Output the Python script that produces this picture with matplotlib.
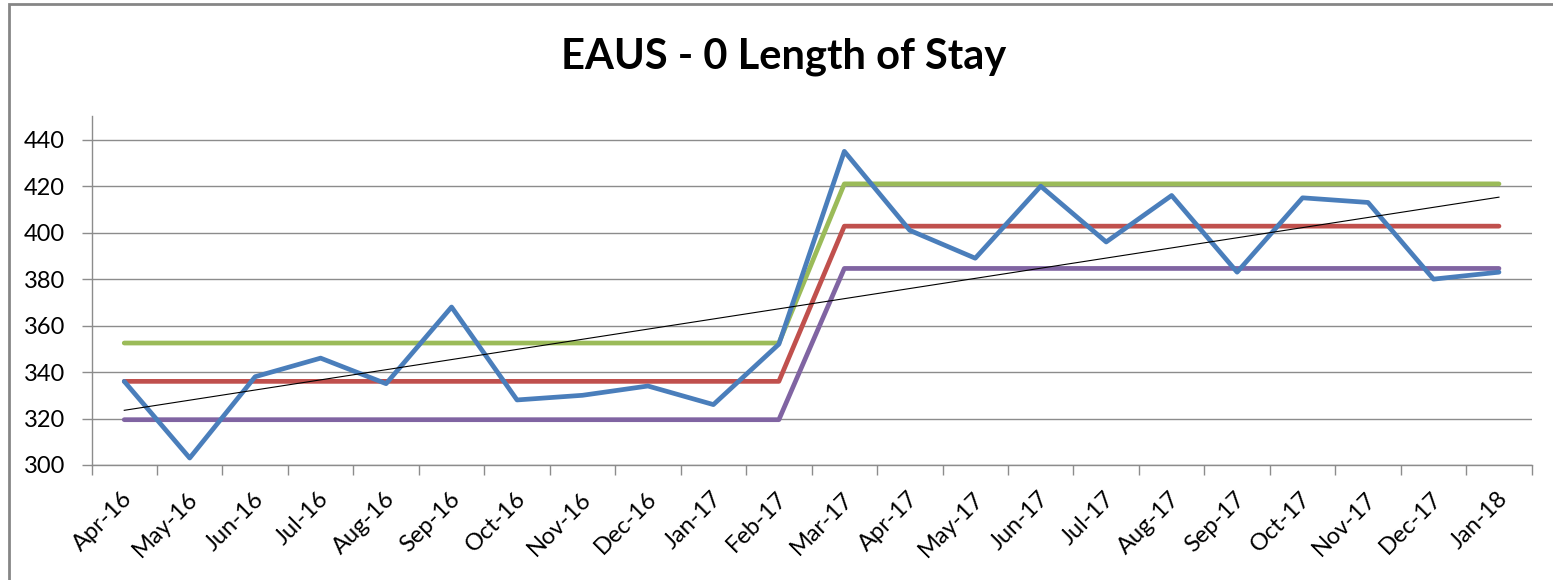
import numpy as np
import matplotlib.pyplot as plt
import matplotlib.transforms as mtransforms
from matplotlib.patches import Rectangle

months = ['Apr-16', 'May-16', 'Jun-16', 'Jul-16', 'Aug-16', 'Sep-16', 'Oct-16', 'Nov-16',
          'Dec-16', 'Jan-17', 'Feb-17', 'Mar-17', 'Apr-17', 'May-17', 'Jun-17', 'Jul-17',
          'Aug-17', 'Sep-17', 'Oct-17', 'Nov-17', 'Dec-17', 'Jan-18']
los = [336, 303, 338, 346, 335, 368, 328, 330, 334, 326, 352,
       435, 401, 389, 420, 396, 416, 383, 415, 413, 380, 383]
upper = [352.5] * 11 + [421.0] * 11
mean = [336.0] * 11 + [402.8] * 11
lower = [319.5] * 11 + [384.6] * 11

plt.rcParams['font.family'] = ['Lato', 'DejaVu Sans']

fig = plt.figure(figsize=(15.53, 5.80), dpi=100)
ax = fig.add_axes([91.5 / 1553, 1 - 465 / 580, (1531.7 - 91.5) / 1553, (465 - 116.5) / 580])

x = np.arange(len(months))

# linear trendline, as Excel does it
coef = np.polyfit(x, los, 1)
trend = np.poly1d(coef)(x)

lw = 3.4
ax.plot(x, upper, color='#9BBB59', lw=lw, solid_capstyle='round', zorder=3)
ax.plot(x, mean, color='#C0504D', lw=lw, solid_capstyle='round', zorder=3)
ax.plot(x, lower, color='#8064A2', lw=lw, solid_capstyle='round', zorder=3)
ax.plot(x, los, color='#4A7EBB', lw=lw, solid_capstyle='round', zorder=4)
ax.plot(x, trend, color='black', lw=0.8, zorder=5)

ax.set_xlim(-0.5, len(months) - 0.5)
ax.set_ylim(300, 450)
ax.set_yticks(np.arange(300, 441, 20))
ax.yaxis.grid(True, color='#8C8C8C', lw=1.0)
ax.set_axisbelow(True)

ax.set_xticks(x)
ax.set_xticklabels(months, rotation=45, ha='right', va='center', rotation_mode='anchor')
ax.set_xticks(np.arange(-0.5, len(months), 1), minor=True)
ax.tick_params(axis='x', which='major', length=0, pad=22, labelsize=17)
ax.tick_params(axis='x', which='minor', length=7, color='#8C8C8C', width=1.0)
ax.tick_params(axis='y', length=7, color='#8C8C8C', width=1.0, pad=12, labelsize=17)

# nudge the month labels a little to the right, like Excel places them
shift = mtransforms.ScaledTranslation(5 / 100, 0, fig.dpi_scale_trans)
for lab in ax.get_xticklabels():
    lab.set_transform(lab.get_transform() + shift)

for s in ['top', 'right']:
    ax.spines[s].set_visible(False)
for s in ['left', 'bottom']:
    ax.spines[s].set_color('#8C8C8C')
    ax.spines[s].set_linewidth(1.0)

fig.text(784 / 1553, 1 - 57 / 580, 'EAUS - 0 Length of Stay', ha='center', va='center',
         fontsize=30, fontweight='bold')

fig.patches.append(Rectangle((9 / 1553, -0.01), 1.02, 1 - 4 / 580 + 0.01, transform=fig.transFigure,
                             fill=False, edgecolor='#868686', lw=2))

fig.savefig('out.png', dpi=100)
